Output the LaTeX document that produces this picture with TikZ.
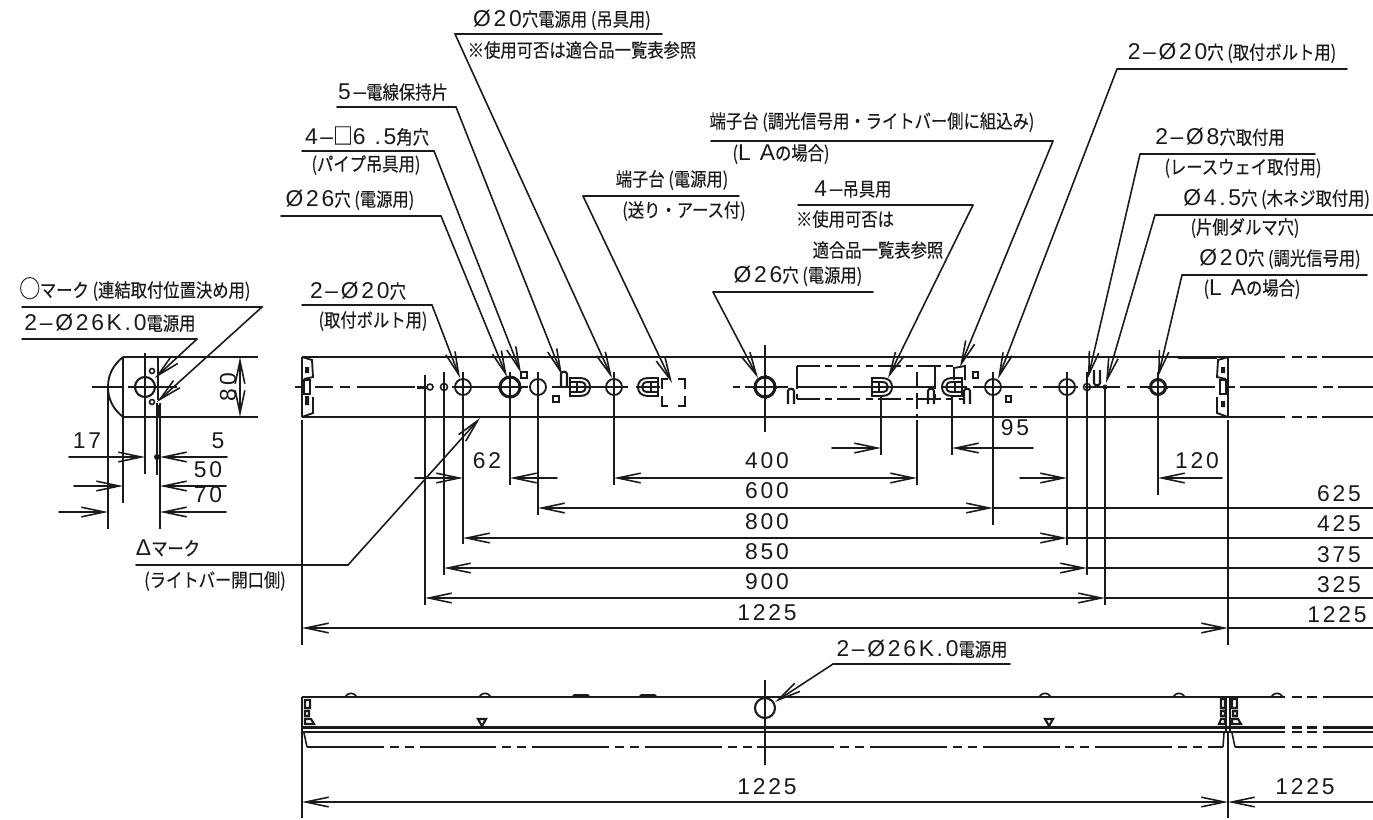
\documentclass[tikz,border=0pt]{standalone}
\usepackage{fontspec}
\setmainfont[FakeStretch=.86,FakeBold=.25]{Noto Sans CJK JP}
\newfontfamily\dimfont[LetterSpace=12]{Liberation Sans}
\newcommand{\dg}[1]{{\fontsize{13pt}{13pt}\dimfont #1}}
\usetikzlibrary{arrows.meta,calc}
\usepackage{tkz-euclide}
\definecolor{DrawClr}{RGB}{26,26,26}
\tikzset{
  lbl/.style={inner sep=0pt,font=\fontsize{10.8pt}{12pt}\selectfont,text=DrawClr},
  outline/.style={line width=1.05pt,color=DrawClr},
  thinline/.style={line width=.9pt,color=DrawClr},
  heavy/.style={line width=1.7pt,color=DrawClr},
  leaderline/.style={line width=.9pt,color=DrawClr},
  pics/termblock/.style={code={
    \draw[line width=1.1pt,color=DrawClr] (-10,-9) -- (0,-9) .. controls (7,-9) and (10,-5) .. (10,0) .. controls (10,5) and (7,9) .. (0,9) -- (-10,9) -- cycle;
    \draw[line width=1.1pt,color=DrawClr] (-10,-5) -- (0,-5) .. controls (4,-5) and (6,-3) .. (6,0) .. controls (6,3) and (4,5) .. (0,5) -- (-10,5);
    \draw[line width=1.1pt,color=DrawClr] (-3,-5) -- (-3,5);
  }},
  pics/holder/.style={code={
    \draw[line width=1.2pt,color=DrawClr] (-3,8) -- (-3,-5) .. controls (-3,-8) and (3,-8) .. (3,-5) -- (3,8);
  }}
}

\begin{document}
\begin{tikzpicture}[x=.02cm,y=-.02cm,>={Straight Barb[length=13pt,width=5.5pt]}]
\path[use as bounding box,clip] (0,0) rectangle (1373,819);

% Leader points.
\tkzDefPoints{22/307/La,262/307/Lb,157/402/Lc,22/339/Ld,197/339/Le,155/378/Lf,136/565/Lg,348/565/Lh,480/418/Li}
\tkzDefPoints{662/34/Ma,455/34/Mb,612/378/Mc,337/107/Md,456/107/Me,562/375/Mf,302/151/Mg,434/151/Mh,521/373/Mi}
\tkzDefPoints{281/216/Na,441/216/Nb,507/377/Nc,302/305/Nd,432/305/Ne,460/378/Nf,739/196/Ng,583/196/Nh,672/383/Ni}
\tkzDefPoints{711/141/Pa,1053/141/Pb,960/367/Pc,798/205/Pd,973/205/Pe,888/378/Pf,873/292/Pg,713/292/Ph,758/378/Pi}
\tkzDefPoints{1347/69/Qa,1117/69/Qb,998/379/Qc,1315/154/Qd,1140/154/Qe,1088/378/Qf,1373/215/Qg,1155/215/Qh,1106/383/Qi}
\tkzDefPoints{1367/275/Ra,1182/275/Rb,1158/377/Rc,1010/664/Rd,833/664/Re,775/702/Rf}

\tkzDrawSegments[leaderline](La,Lb Ld,Le Lg,Lh Ma,Mb Md,Me Mg,Mh Na,Nb Nd,Ne Ng,Nh Pa,Pb Pd,Pe Pg,Ph Qa,Qb Qd,Qe Qg,Qh Ra,Rb Rd,Re)
\tkzDrawSegments[leaderline,->](Lb,Lc Le,Lf Lh,Li Mb,Mc Me,Mf Mh,Mi Nb,Nc Ne,Nf Nh,Ni Pb,Pc Pe,Pf Ph,Pi Qb,Qc Qe,Qf Qh,Qi Rb,Rc Re,Rf)

% Labels above the leaders.
\node[lbl] (ringMark) at (135,289) {{\fontsize{13.5pt}{13pt}\selectfont ◯}マーク (連結取付位置決め用)};
\node[lbl] (sideKnock) at (110,323) {\dg{2–Ø26K.0}電源用};
\node[lbl] (triMark) at (168,548) {\dg{Δ}マーク};
\node[lbl] (triMarkB) at (215,581) {(ライトバー開口側)};
\node[lbl] (hangerHole) at (562,20) {\dg{Ø20}穴電源用 (吊具用)};
\node[lbl] (hangerHoleB) at (582,50) {※使用可否は適合品一覧表参照};
\node[lbl] (holderTab) at (393,92) {\dg{5–}電線保持片};
\node[lbl] (squareHole) at (367,136) {\dg{4–}{\fontsize{13pt}{13pt}\selectfont □}\dg{6 .5}角穴};
\node[lbl] (squareHoleB) at (366,165) {(パイプ吊具用)};
\node[lbl] (powerHole) at (350,200) {\dg{Ø26}穴 (電源用)};
\node[lbl] (boltHole) at (358,291) {\dg{2–Ø20}穴};
\node[lbl] (boltHoleB) at (373,321) {(取付ボルト用)};
\node[lbl] (mainBlock) at (672,180) {端子台 (電源用)};
\node[lbl] (mainBlockB) at (684,211) {(送り・アース付)};
\node[lbl] (signalBlock) at (872,122) {端子台 (調光信号用・ライトバー側に組込み)};
\node[lbl] (signalBlockB) at (781,154) {(\dg{L A}の場合)};
\node[lbl] (hanger) at (853,189) {\dg{4–}吊具用};
\node[lbl] (hangerB) at (845,219) {※使用可否は};
\node[lbl] (hangerC) at (878,250) {適合品一覧表参照};
\node[lbl] (powerHoleB) at (798,276) {\dg{Ø26}穴 (電源用)};
\node[lbl] (boltHoleC) at (1232,53) {\dg{2–Ø20}穴 (取付ボルト用)};
\node[lbl] (wayHole) at (1220,137) {\dg{2–Ø8}穴取付用};
\node[lbl] (wayHoleB) at (1243,168) {(レースウェイ取付用)};
\node[lbl,anchor=west] (woodHole) at (1183,199) {\dg{Ø4.5}穴 (木ネジ取付用)};
\node[lbl] (woodHoleB) at (1245,228) {(片側ダルマ穴)};
\node[lbl] (signalHole) at (1280,259) {\dg{Ø20}穴 (調光信号用)};
\node[lbl] (signalHoleB) at (1252,289) {(\dg{L A}の場合)};
\node[lbl] (bottomKnock) at (922,649) {\dg{2–Ø26K.0}電源用};

% Small end view.
\draw[outline] (123,357) -- (258,357) (123,417) -- (258,417);
\draw[outline] (123,357) .. controls (113,365) and (108,375) .. (108,387) .. controls (108,399) and (113,409) .. (123,417);
\draw[outline] (158,357) -- (158,400) (158,405) -- (158,417);
\draw[thinline] (123,357) -- (123,503) (108,387) -- (108,529) (145,353) -- (145,474);
\draw[outline] (157,403) -- (157,475) (160,403) -- (160,529);
\draw[thinline] (92,387) -- (122,387) (128,387) -- (177,387);
\draw[heavy,line width=1.2pt] (145,387) circle (10);
\draw[thinline] (152,371) circle (2.5) (152,402) circle (2.5);
\fill[DrawClr] (157,457) circle (3);
\tkzDefPoints{240/357/Ea,240/417/Eb,69/457/Ec,145/457/Ed,227/457/Ee,160/457/Ef,74/486/Eg,123/486/Eh,226/486/Ei,160/486/Ej,59/512/Ek,108/512/El,226/512/Em,160/512/En}
\tkzDrawSegments[thinline,<->](Ea,Eb)
\tkzDrawSegments[thinline,->](Ec,Ed Ee,Ef Eg,Eh Ei,Ej Ek,El Em,En)
\node[lbl] (dimEighty) at (228,387) {\rotatebox{90}{\dg{80}}};
\node[lbl] (dimSeventeen) at (87,441) {\dg{17}};
\node[lbl] (dimFive) at (218,441) {\dg{5}};
\node[lbl] (dimFifty) at (208,470) {\dg{50}};
\node[lbl] (dimSeventy) at (208,495) {\dg{70}};

% Top view, outline.
\draw[outline] (302,357) -- (1285,357) (1292,357) -- (1302,357) (1307,357) -- (1317,357) (1322,357) -- (1373,357);
\draw[outline] (302,417) -- (1285,417) (1292,417) -- (1302,417) (1307,417) -- (1317,417) (1322,417) -- (1373,417);
\draw[heavy] (1178,357) -- (1217,357);
\draw[outline] (295,387) -- (303,387) (315,387) -- (333,387) (340,387) -- (350,387) (357,387) -- (415,387) (452,387) -- (528,387) (552,387) -- (628,387) (636,387) -- (660,387) (733,387) -- (740,387) (745,387) -- (788,387) (797,387) -- (837,387) (840,387) -- (847,387) (853,387) -- (935,387) (943,387) -- (967,387) (973,387) -- (1023,387) (1030,387) -- (1037,387) (1043,387) -- (1078,387) (1085,387) -- (1120,387) (1127,387) -- (1135,387) (1140,387) -- (1215,387) (1228,387) -- (1235,387) (1240,387) -- (1317,387) (1323,387) -- (1333,387) (1338,387) -- (1373,387);

% Fixing clips at both ends.
\draw[outline] (302,357) -- (302,417) (302,357) -- (312,360) -- (313,377) -- (304,379) (313,397) -- (313,413) -- (302,417);
\draw[thinline] (304,380) rectangle (310,394);
\fill[DrawClr] (305,367) rectangle (309,373) (305,396) rectangle (309,405);
\draw[outline] (1228,357) -- (1228,417) (1228,357) -- (1218,360) -- (1217,377) -- (1226,379) (1217,397) -- (1217,413) -- (1228,417);
\draw[thinline] (1220,380) rectangle (1226,394);
\fill[DrawClr] (1221,367) rectangle (1225,373) (1221,401) rectangle (1225,407);

% Holes.
\draw[outline] (463,387) circle (8) (538,387) circle (8) (614,387) circle (8) (993,387) circle (8) (1067,387) circle (8);
\draw[heavy] (510,387) circle (10) (765,387) circle (10);
\draw[heavy] (498,387) -- (501,387) (519,387) -- (522,387) (510,375) -- (510,378) (510,396) -- (510,399) (753,387) -- (756,387) (774,387) -- (777,387) (765,375) -- (765,378) (765,396) -- (765,399);
\draw[heavy] (1158,387) circle (7.5);
\draw[heavy] (1148,387) -- (1151,387) (1165,387) -- (1168,387);
\draw[thinline] (430,387) circle (3) (444,387) circle (3.5) (1087,387) circle (3.5);
\draw[heavy] (417,387) -- (427,387);
\fill[DrawClr] (1105,387) circle (2.5);
\draw[thinline] (521,372) rectangle (527,378) (553,396) rectangle (559,402) (973,372) rectangle (978,378) (1006,396) rectangle (1011,402);

% Terminal blocks and wire holders.
\pic at (580,387) {termblock};
\pic[xscale=-1] at (648,387) {termblock};
\pic at (882,387) {termblock};
\pic[xscale=-1] at (952,387) {termblock};
\pic at (564,379) {holder};
\pic at (791,396) {holder};
\pic at (931,396) {holder};
\pic at (967,396) {holder};
\pic[yscale=-1] at (1097,378) {holder};
\draw[outline] (662,389) -- (662,379) -- (668,379) (678,379) -- (685,379) -- (685,389) (685,396) -- (685,406) -- (678,406) (668,406) -- (662,406) -- (662,396);
\draw[thinline,dash pattern=on 13pt off 3pt on 4pt off 3pt] (797,366) -- (955,366) (797,399) -- (965,399) (797,366) -- (797,399) (935,366) -- (935,399);
\draw[thinline,dash pattern=on 9pt off 3pt] (917,372) -- (917,417);
\draw[thinline] (917,420) -- (917,485);
\draw[outline] (954,380) -- (954,368) -- (965,366) -- (965,380);

% Extension lines.
\draw[thinline] (425,375) -- (425,605) (444,372) -- (444,575) (463,372) -- (463,544) (510,372) -- (510,485) (538,372) -- (538,515) (614,372) -- (614,485) (765,345) -- (765,432) (881,395) -- (881,455) (952,395) -- (952,455) (993,372) -- (993,525) (1067,372) -- (1067,545) (1087,372) -- (1087,575) (1105,387) -- (1105,605) (1158,372) -- (1158,495) (302,420) -- (302,645) (1228,420) -- (1228,645);

% Dimensions.
\tkzDefPoints{415/478/Da,463/478/Db,557/478/Dc,510/478/Dd,614/478/De,917/478/Df,538/508/Dg,993/508/Dh,1373/508/Di,463/538/Dj,1067/538/Dk,1373/538/Dl,444/568/Dm,1087/568/Dn,1373/568/Do,425/598/Dp,1105/598/Dq,1373/598/Dr,302/628/Ds,1228/628/Dt,1373/628/Du}
\tkzDefPoints{832/448/Fa,881/448/Fb,1033/448/Fc,952/448/Fd,1020/478/Fe,1067/478/Ff,1222/478/Fg,1158/478/Fh}
\tkzDrawSegments[thinline,->](Da,Db Dc,Dd Fa,Fb Fc,Fd Fe,Ff Fg,Fh)
\tkzDrawSegments[thinline,<->](De,Df Dg,Dh Dj,Dk Dm,Dn Dp,Dq Ds,Dt)
\tkzDrawSegments[thinline](Dh,Di Dk,Dl Dn,Do Dq,Dr Dt,Du)
\node[lbl] (dimSixtyTwo) at (487,461) {\dg{62}};
\node[lbl] (dimFourHundred) at (767,461) {\dg{400}};
\node[lbl] (dimSixHundred) at (767,491) {\dg{600}};
\node[lbl] (dimEightHundred) at (767,522) {\dg{800}};
\node[lbl] (dimEightFifty) at (767,552) {\dg{850}};
\node[lbl] (dimNineHundred) at (767,582) {\dg{900}};
\node[lbl] (dimLength) at (767,613) {\dg{1225}};
\node[lbl] (dimNinetyFive) at (1015,428) {\dg{95}};
\node[lbl] (dimOneTwenty) at (1197,461) {\dg{120}};
\node[lbl] (dimRightA) at (1339,494) {\dg{625}};
\node[lbl] (dimRightB) at (1339,524) {\dg{425}};
\node[lbl] (dimRightC) at (1339,555) {\dg{375}};
\node[lbl] (dimRightD) at (1339,585) {\dg{325}};
\node[lbl] (dimRightE) at (1337,615) {\dg{1225}};

% Bottom view.
\draw[outline] (302,697) -- (1285,697) (1292,697) -- (1302,697) (1307,697) -- (1317,697) (1323,697) -- (1373,697);
\draw[heavy] (302,727) -- (1285,727) (1292,727) -- (1302,727) (1307,727) -- (1317,727) (1323,727) -- (1373,727);
\draw[outline,line width=1.3pt] (302,732) -- (1285,732) (1292,732) -- (1302,732) (1307,732) -- (1317,732) (1323,732) -- (1373,732);
\draw[thinline,dash pattern=on 43.7pt off 3.4pt on 5.1pt off 3.4pt on 5.1pt off 3.4pt] (307,747) -- (1223,747);
\draw[thinline] (1235,747) -- (1285,747) (1292,747) -- (1302,747) (1307,747) -- (1317,747) (1323,747) -- (1373,747);
\draw[outline] (302,697) -- (302,818) (1226,697) -- (1226,732) (1230,697) -- (1230,732) (1228,732) -- (1228,818);
\draw[thinline] (304,733) -- (307,747) (1224,733) -- (1223,747) (1232,733) -- (1235,747);
\draw[outline] (765,680) -- (765,765);
\draw[heavy,line width=1.2pt] (765,708) circle (10);
\draw[thinline] (345,697) .. controls (348,692) and (354,692) .. (357,697) (479,697) .. controls (482,692) and (488,692) .. (491,697) (1039,697) .. controls (1042,692) and (1048,692) .. (1051,697) (1173,697) .. controls (1176,692) and (1182,692) .. (1185,697) (1271,697) .. controls (1274,692) and (1280,692) .. (1283,697);
\fill[DrawClr] (571,697) -- (574,694) -- (588,694) -- (591,697) -- cycle (638,697) -- (641,694) -- (655,694) -- (658,697) -- cycle;
\draw[thinline,line width=1.2pt] (478,719) -- (486,719) -- (482,726) -- cycle (1045,719) -- (1053,719) -- (1049,726) -- cycle;
\draw[thinline,line width=1.2pt] (305,700) rectangle (310,708) (305,711) rectangle (309,716) (305,719) -- (311,719) -- (314,724) -- (305,724) -- cycle;
\draw[thinline,line width=1.2pt] (1221,699) rectangle (1225,708) (1221,711) rectangle (1225,716) (1219,724) -- (1221,719) -- (1225,719) -- (1225,724) -- cycle;
\draw[thinline,line width=1.2pt] (1232,699) rectangle (1237,708) (1233,711) rectangle (1237,716) (1232,719) -- (1238,719) -- (1241,724) -- (1232,724) -- cycle;
\tkzDefPoints{302/802/Ga,1228/802/Gb,1373/802/Gc}
\tkzDrawSegments[thinline,<->](Ga,Gb)
\tkzDrawSegments[thinline,->](Gc,Gb)
\node[lbl] (dimLengthB) at (767,787) {\dg{1225}};
\node[lbl] (dimLengthC) at (1305,787) {\dg{1225}};
\end{tikzpicture}
\end{document}
